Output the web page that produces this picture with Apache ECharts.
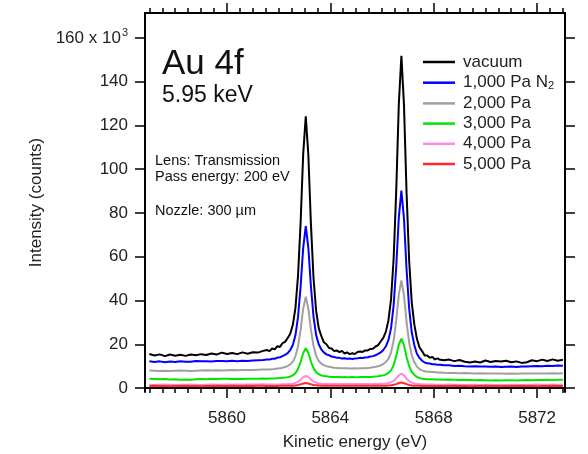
<!DOCTYPE html>
<html>
<head>
<meta charset="utf-8">
<script src="https://cdn.jsdelivr.net/npm/echarts@6/dist/echarts.min.js"></script>
<style>
html,body{margin:0;padding:0;background:#fff;}
#chart{width:588px;height:454px;}
</style>
</head>
<body>
<div id="chart"></div>
<script>
// Kinetic energy (eV)
const energy = [
5857.0,5857.2,5857.4,5857.6,5857.8,5858.0,5858.2,5858.4,5858.6,5858.8,5859.0,5859.2,5859.4,5859.6,5859.8,5860.0,5860.2,5860.4,5860.6,5860.8,5861.0,5861.2,5861.4,
5861.55,5861.65,5861.75,5861.85,5861.95,5862.05,5862.15,5862.25,5862.35,5862.45,
5862.55,5862.65,5862.75,5862.85,5862.95,5863.05,5863.15,5863.25,5863.35,5863.45,
5863.55,5863.65,5863.75,5863.85,5863.95,5864.05,5864.15,5864.25,5864.35,5864.45,
5864.55,5864.65,5864.75,5864.85,5864.95,5865.05,5865.15,5865.25,5865.35,5865.45,
5865.55,5865.65,5865.75,5865.85,5865.95,5866.05,5866.15,5866.25,5866.35,5866.45,
5866.55,5866.65,5866.75,5866.85,5866.95,5867.05,5867.15,5867.25,5867.35,5867.45,
5867.55,5867.65,5867.75,5867.85,5867.95,5868.05,5868.15,5868.25,
5868.4,5868.6,5868.8,5869.0,5869.2,5869.4,5869.6,5869.8,5870.0,5870.2,5870.4,5870.6,5870.8,5871.0,5871.2,5871.4,5871.6,5871.8,5872.0,5872.2,5872.4,5872.6,5872.8,5873.0
];
// Intensity (x 10^3 counts)
const vacuum = [
15.6,14.9,15.4,14.6,15.3,14.8,15.2,14.7,15.3,15.0,15.5,15.1,15.8,15.3,16.2,15.6,16.0,15.5,16.3,15.7,16.4,16.2,17.0,
17.4,16.9,18.1,17.7,19.1,18.8,20.5,21.1,22.9,24.8,
28.9,36.5,51.2,75.4,106.8,124.2,106.5,74.9,50.3,35.4,
27.5,23.8,20.9,20.0,18.3,18.1,16.9,17.2,16.4,17.0,
15.8,16.3,15.5,15.9,15.6,16.5,16.7,16.5,17.2,17.2,
17.9,18.0,19.0,19.6,21.3,22.9,25.8,31.0,40.6,59.2,
90.0,129.7,151.8,129.4,89.3,58.2,39.2,29.1,22.5,18.6,
16.9,14.9,14.9,13.9,14.2,13.1,13.6,12.9,
12.7,13.0,12.3,12.8,12.0,11.7,12.1,11.7,12.6,11.9,12.4,12.1,12.5,11.8,12.2,11.5,11.8,12.7,12.3,13.0,12.4,13.1,12.5,12.9
];
const pa1000 = [
12.3,11.9,12.2,11.8,12.1,11.9,12.3,12.0,12.0,12.4,12.2,12.3,12.1,12.4,12.4,12.2,12.5,12.2,12.5,12.4,12.6,12.7,12.8,
13.1,13.0,13.4,13.4,13.9,14.1,14.6,15.2,16.0,17.4,
19.7,24.1,32.4,46.3,64.0,74.0,64.1,46.4,32.6,24.3,
20.0,17.7,16.3,15.4,15.0,14.4,14.2,13.8,13.8,13.5,
13.6,13.4,13.5,13.3,13.5,13.6,13.8,13.7,14.0,14.1,
14.4,14.6,15.0,15.6,16.3,17.4,19.1,22.0,27.4,37.8,
55.3,77.9,90.2,77.4,54.3,36.4,25.5,19.7,15.7,13.8,
12.5,11.7,11.3,11.2,10.9,10.9,10.6,10.6,
10.4,10.4,10.1,10.2,10.0,9.9,10.0,9.8,9.9,9.7,9.8,9.6,9.7,9.8,9.6,9.8,9.9,10.0,10.1,10.0,10.2,10.1,10.3,10.2
];
const pa2000 = [
8.0,7.9,7.8,7.9,7.8,7.9,8.0,7.9,7.8,7.9,8.0,8.1,8.0,8.1,8.0,8.1,8.2,8.1,8.2,8.3,8.3,8.4,8.5,
8.5,8.5,8.6,8.7,8.9,9.0,9.3,9.6,10.1,10.8,
12.1,14.5,19.0,26.6,36.2,41.7,36.3,26.7,19.3,14.8,
12.4,11.2,10.5,10.0,9.7,9.5,9.3,9.2,9.1,9.0,
9.0,9.0,8.9,8.9,9.0,8.9,9.0,9.1,9.1,9.2,
9.3,9.5,9.7,10.0,10.4,11.0,11.9,13.4,16.2,21.7,
30.9,42.7,49.2,42.4,30.2,20.8,15.0,11.9,9.8,8.7,
8.1,7.7,7.5,7.4,7.3,7.2,7.1,7.1,
7.0,6.9,6.9,6.8,6.9,6.8,6.7,6.8,6.7,6.6,6.7,6.6,6.5,6.6,6.5,6.6,6.6,6.7,6.6,6.7,6.7,6.8,6.7,6.8
];
const pa3000 = [
4.2,4.1,4.0,4.1,3.9,4.0,3.8,3.9,3.8,4.0,4.1,4.0,4.2,4.1,4.3,4.2,4.1,4.2,4.1,4.2,4.3,4.3,4.4,
4.3,4.4,4.4,4.4,4.5,4.6,4.7,4.8,5.0,5.3,
5.8,6.8,8.8,11.9,15.9,18.2,16.1,12.1,9.1,7.3,
6.3,5.8,5.5,5.4,5.2,5.1,5.1,5.0,5.0,4.9,
5.0,4.9,4.9,5.0,4.9,4.9,5.0,5.0,5.0,5.0,
5.1,5.2,5.3,5.4,5.6,5.8,6.2,6.9,8.1,10.5,
14.6,19.8,22.6,19.6,14.2,10.0,7.4,6.0,5.1,4.6,
4.3,4.1,4.0,4.0,4.0,3.9,3.9,3.9,
3.8,3.9,3.8,3.7,3.8,3.7,3.6,3.7,3.6,3.5,3.6,3.5,3.6,3.6,3.5,3.6,3.7,3.6,3.7,3.7,3.8,3.7,3.8,3.8
];
const pa4000 = [
1.5,1.4,1.5,1.6,1.5,1.4,1.5,1.5,1.6,1.5,1.4,1.5,1.6,1.5,1.5,1.6,1.5,1.6,1.5,1.6,1.6,1.6,1.7,
1.6,1.6,1.6,1.6,1.6,1.6,1.7,1.7,1.8,1.8,
2.0,2.3,2.9,3.8,4.9,5.6,5.0,3.9,3.0,2.5,
2.2,2.0,1.9,1.9,1.9,1.8,1.8,1.8,1.8,1.8,
1.8,1.8,1.8,1.8,1.8,1.8,1.8,1.8,1.8,1.8,
1.8,1.9,1.9,1.9,2.0,2.0,2.1,2.3,2.7,3.3,
4.4,5.8,6.6,5.8,4.3,3.2,2.5,2.1,1.9,1.7,
1.7,1.6,1.6,1.6,1.6,1.5,1.5,1.5,
1.5,1.6,1.5,1.5,1.4,1.5,1.5,1.4,1.5,1.5,1.4,1.5,1.4,1.5,1.5,1.4,1.5,1.5,1.6,1.5,1.5,1.6,1.5,1.6
];
const pa5000 = [
0.9,1.0,0.9,0.9,0.8,0.9,0.9,1.0,0.9,0.9,0.8,0.9,0.9,1.0,0.9,0.9,1.0,0.9,0.9,1.0,0.9,1.0,1.0,
0.9,1.0,0.9,1.0,0.9,1.0,1.0,1.0,1.0,1.0,
1.1,1.2,1.4,1.7,2.1,2.3,2.1,1.7,1.4,1.3,
1.2,1.1,1.1,1.1,1.0,1.1,1.0,1.0,1.1,1.0,
1.0,1.0,1.1,1.0,1.0,1.0,1.1,1.0,1.0,1.1,
1.0,1.1,1.1,1.1,1.1,1.1,1.1,1.2,1.3,1.5,
1.8,2.3,2.5,2.2,1.8,1.4,1.2,1.1,1.0,1.0,
0.9,1.0,0.9,0.9,1.0,0.9,0.9,0.9,
0.9,0.9,1.0,0.9,0.9,0.8,0.9,0.9,1.0,0.9,0.9,0.8,0.9,0.9,0.9,1.0,0.9,0.9,0.8,0.9,0.9,1.0,0.9,0.9
];
const seriesNames = ['vacuum', '1,000 Pa N₂', '2,000 Pa', '3,000 Pa', '4,000 Pa', '5,000 Pa'];
const seriesColors = ['#000000', '#0000ff', '#a0a0a0', '#00e600', '#ff88e0', '#ff2a2a'];
const seriesValues = [vacuum, pa1000, pa2000, pa3000, pa4000, pa5000];
const yTicks = [0, 20, 40, 60, 80, 100, 120, 140, 160];
const xTicks = [5860, 5864, 5868, 5872];
const xMinorTicks = [];
for (let v = 5857; v <= 5873.001; v += 0.5) xMinorTicks.push(+v.toFixed(1));
const annotations = ['Au 4f', '5.95 keV', 'Lens: Transmission', 'Pass energy: 200 eV', 'Nozzle: 300 µm'];

const FONT = 'Liberation Sans, Arial, sans-serif';
const X_MIN = 5856.83, X_MAX = 5873.08, Y_MIN = -1.8, Y_MAX = 171.4;
const axisCol = '#000';

function xAx(position, ticks, len, showLine, showLabel) {
  return {
    type: 'value', position: position, min: X_MIN, max: X_MAX,
    axisLine: {show: showLine, lineStyle: {color: axisCol, width: 2}},
    axisTick: {show: true, customValues: ticks, length: len, lineStyle: {color: axisCol, width: 1.5}},
    axisLabel: {show: showLabel, customValues: ticks, margin: 18, fontSize: 17, color: '#222', fontFamily: FONT,
      formatter: function (v) { return String(v); }},
    splitLine: {show: false}
  };
}

const chart = echarts.init(document.getElementById('chart'), null, {renderer: 'canvas'});
chart.setOption({
  animation: false,
  backgroundColor: '#fff',
  textStyle: {fontFamily: FONT},
  grid: {left: 145, right: 23, top: 13, bottom: 62, containLabel: false, outerBoundsMode: 'none'},
  xAxis: [
    Object.assign(xAx('bottom', xTicks, 10, true, true), {
      name: 'Kinetic energy (eV)', nameLocation: 'middle', nameGap: 42,
      nameTextStyle: {fontSize: 17, color: '#222', fontFamily: FONT}
    }),
    xAx('bottom', xMinorTicks, 5, false, false),
    xAx('top', xTicks, 10, true, false),
    xAx('top', xMinorTicks, 5, false, false)
  ],
  yAxis: [
    {
      type: 'value', position: 'left', min: Y_MIN, max: Y_MAX,
      name: 'Intensity (counts)', nameLocation: 'middle', nameGap: 98,
      nameTextStyle: {fontSize: 17, color: '#222', fontFamily: FONT},
      axisLine: {show: true, lineStyle: {color: axisCol, width: 2}},
      axisTick: {show: true, customValues: yTicks, length: 10, lineStyle: {color: axisCol, width: 1.5}},
      axisLabel: {
        customValues: yTicks, margin: 17, fontSize: 17, color: '#222', fontFamily: FONT,
        formatter: function (v) { return v === 160 ? '160 x 10{sup|3}' : String(v); },
        rich: {sup: {fontSize: 11, color: '#222', verticalAlign: 'top', padding: [0, 0, 9, 1], fontFamily: FONT}}
      },
      splitLine: {show: false}
    },
    {
      type: 'value', position: 'right', min: Y_MIN, max: Y_MAX,
      axisLine: {show: true, lineStyle: {color: axisCol, width: 2}},
      axisTick: {show: true, customValues: yTicks, length: 10, lineStyle: {color: axisCol, width: 1.5}},
      axisLabel: {show: false},
      splitLine: {show: false}
    }
  ],
  legend: {
    orient: 'vertical', left: 423, top: 53.5, padding: 0,
    icon: 'rect', itemWidth: 32, itemHeight: 2.5, itemGap: 3.2,
    textStyle: {fontSize: 17, lineHeight: 17, color: '#222', fontFamily: FONT, padding: [0, 0, 0, 3],
      rich: {sub: {fontSize: 11, lineHeight: 17, color: '#222', padding: [7, 0, 0, 0], fontFamily: FONT}}},
    formatter: function (name) { return name.replace('₂', '{sub|2}'); },
    data: seriesNames
  },
  series: seriesNames.map(function (n, i) {
    return {
      name: n, type: 'line', xAxisIndex: 0, yAxisIndex: 0,
      symbol: 'none', showSymbol: false, smooth: false,
      lineStyle: {color: seriesColors[i], width: 2},
      itemStyle: {color: seriesColors[i]},
      data: energy.map(function (x, j) { return [x, seriesValues[i][j]]; })
    };
  }),
  graphic: [
    {type: 'text', left: 162, top: 47, style: {text: annotations[0], font: '35px ' + FONT, fill: '#111'}},
    {type: 'text', left: 162, top: 84, style: {text: annotations[1], font: '23px ' + FONT, fill: '#111'}},
    {type: 'text', left: 155, top: 153, style: {text: annotations[2], font: '14.5px ' + FONT, fill: '#111'}},
    {type: 'text', left: 155, top: 169, style: {text: annotations[3], font: '14.5px ' + FONT, fill: '#111'}},
    {type: 'text', left: 155, top: 203, style: {text: annotations[4], font: '14.5px ' + FONT, fill: '#111'}}
  ]
});
</script>
</body>
</html>
